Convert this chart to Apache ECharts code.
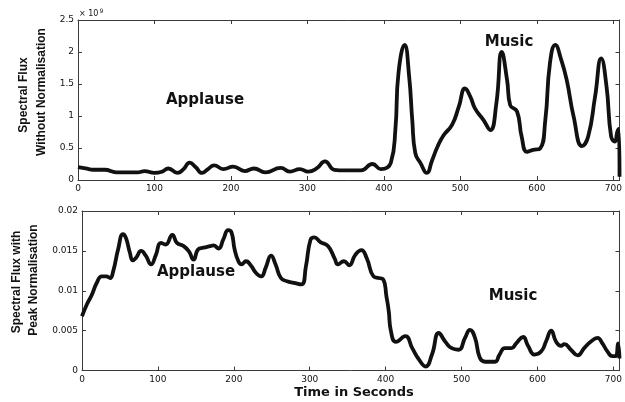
<!DOCTYPE html>
<html>
<head>
<meta charset="utf-8">
<script src="https://cdn.jsdelivr.net/npm/echarts@6/dist/echarts.min.js"></script>
<style>
  html, body { margin: 0; padding: 0; background: #fff; }
  #chart { width: 625px; height: 402px; }
</style>
</head>
<body>
<div id="chart"></div>
<script>
// Spectral flux of a recording (applause, then music), in seconds.
// Upper panel: raw flux (x 10^9); lower panel: peak-normalised flux.
var rawTime = [0, 10, 20, 35, 50, 65, 78, 87, 100, 110, 118, 130, 138, 146, 154, 162, 170, 178, 190, 203,
  218, 230, 245, 265, 277, 290, 301, 312, 323, 335, 350, 370, 385, 396, 409, 415, 419, 427, 433, 437,
  441, 448, 456, 463, 470, 478, 489, 498, 506, 513, 519, 530, 539, 547, 554, 561, 565, 574, 580, 587,
  595, 604, 611, 617, 624, 632, 639, 648, 659, 667, 676, 684, 691, 697, 702, 705, 707, 708];
var rawFlux = [0.20, 0.18, 0.16, 0.16, 0.12, 0.12, 0.12, 0.14, 0.11, 0.13, 0.18, 0.11, 0.17, 0.27, 0.20, 0.11, 0.17, 0.23, 0.17, 0.21,
  0.14, 0.18, 0.12, 0.19, 0.13, 0.17, 0.13, 0.18, 0.29, 0.16, 0.15, 0.15, 0.25, 0.17, 0.27, 0.80, 1.67, 2.11, 1.61, 0.94,
  0.42, 0.26, 0.11, 0.31, 0.52, 0.70, 0.86, 1.15, 1.43, 1.30, 1.12, 0.94, 0.78, 1.20, 2.00, 1.56, 1.17, 1.07, 0.68, 0.44,
  0.47, 0.49, 0.94, 1.82, 2.11, 1.87, 1.56, 0.99, 0.53, 0.68, 1.30, 1.90, 1.46, 0.68, 0.60, 0.75, 0.80, 0.05];

var normTime = [0, 6.5, 13, 19.5, 26, 32, 37, 41, 47.6, 54, 58, 63, 67, 71, 78, 84, 91, 97, 104, 110,
  119, 125, 134, 141, 147, 153, 160, 169, 173, 180, 186, 192.6, 197, 201, 206, 210, 216, 223, 229, 236,
  242, 249, 255, 262, 270, 279, 289, 295, 301, 306, 314, 324, 333, 337, 345, 352, 360, 368, 375, 384,
  391, 397, 401, 404, 407, 413.5, 426, 435, 444, 452.6, 461, 470, 478.6, 487, 496, 504.6, 511, 517.7, 524, 531,
  544, 550, 557, 565.6, 572, 581, 587.5, 596, 605, 611.5, 618, 624.5, 631, 635.5, 644, 653, 661.5, 670, 679, 685.5,
  692, 698.6, 703, 706, 708];
var normFlux = [0.0068, 0.0083, 0.0095, 0.0110, 0.0118, 0.0118, 0.0116, 0.0124, 0.0152, 0.0171, 0.0166, 0.0148, 0.0138, 0.0141, 0.0150, 0.0144, 0.0133, 0.0144, 0.0160, 0.0158,
  0.0170, 0.0160, 0.0156, 0.0149, 0.0139, 0.0152, 0.0154, 0.0156, 0.0157, 0.0153, 0.0164, 0.0176, 0.0173, 0.0152, 0.0137, 0.0133, 0.0137, 0.0131, 0.01225, 0.0118,
  0.0129, 0.0144, 0.0133, 0.0116, 0.0112, 0.0110, 0.0108, 0.0131, 0.0164, 0.0167, 0.0161, 0.0156, 0.0140, 0.0133, 0.0137, 0.0132, 0.0145, 0.0151, 0.0141, 0.0118,
  0.0116, 0.0114, 0.0093, 0.0075, 0.0049, 0.0036, 0.0043, 0.0028, 0.00135, 0.0005, 0.0020, 0.0047, 0.0036, 0.0028, 0.0026, 0.0041, 0.0051, 0.0041, 0.0016, 0.0011,
  0.0011, 0.0020, 0.0028, 0.0028, 0.0034, 0.0042, 0.0031, 0.0020, 0.0024, 0.0037, 0.0050, 0.0036, 0.0031, 0.0033, 0.0026, 0.0019, 0.0028, 0.0036, 0.0041, 0.0034,
  0.0024, 0.0018, 0.0018, 0.0034, 0.0015];

var xTicks = [0, 100, 200, 300, 400, 500, 600, 700];
var rawTicks = [0, 0.5, 1, 1.5, 2, 2.5];
var normTicks = [0, 0.005, 0.01, 0.015, 0.02];

function pairs(xs, ys) {
  return xs.map(function (x, i) { return [x, ys[i]]; });
}

var frame = '#3a3a3a';
var tickFont = { fontFamily: 'DejaVu Sans', fontSize: 9, color: '#111' };

function xAxisFor(grid, main) {
  return {
    type: 'value', gridIndex: grid, position: main ? 'bottom' : 'top',
    min: xTicks[0], max: 708, interval: xTicks[1] - xTicks[0],
    axisLine: { show: true, onZero: false, lineStyle: { color: frame, width: 1 } },
    axisTick: { show: true, inside: true, length: 4, lineStyle: { color: frame } },
    axisLabel: Object.assign({
      show: main, margin: grid === 0 ? 4 : 5, showMaxLabel: false,
      formatter: function (v) { return xTicks.indexOf(v) >= 0 ? String(v) : ''; }
    }, tickFont),
    splitLine: { show: false }
  };
}

function yAxisFor(grid, ticks, main) {
  return {
    type: 'value', gridIndex: grid, position: main ? 'left' : 'right',
    min: ticks[0], max: ticks[ticks.length - 1], interval: ticks[1] - ticks[0],
    axisLine: { show: true, onZero: false, lineStyle: { color: frame, width: 1 } },
    axisTick: { show: true, inside: true, length: 4, lineStyle: { color: frame } },
    axisLabel: Object.assign({ show: main, margin: 4 }, tickFont),
    splitLine: { show: false }
  };
}

var chart = echarts.init(document.getElementById('chart'), null, { renderer: 'canvas' });

var titleFont = { fontFamily: 'Liberation Sans', fontWeight: 'bold', fontSize: 12, fill: '#111' };
var noteFont = { fontFamily: 'DejaVu Sans', fontWeight: 'bold', fontSize: 15, fill: '#111' };

function vText(x, y, text) {
  return {
    type: 'text', x: x, y: y, rotation: Math.PI / 2,
    style: Object.assign({ text: text, align: 'center', verticalAlign: 'middle' }, titleFont)
  };
}
function note(x, y, text) {
  return {
    type: 'text', x: x, y: y,
    style: Object.assign({ text: text, align: 'center', verticalAlign: 'middle' }, noteFont)
  };
}

chart.setOption({
  animation: false,
  backgroundColor: '#fff',
  grid: [
    { left: 78, right: 2, top: 20, height: 160 },
    { left: 82, right: 1, top: 211, height: 159.5 }
  ],
  xAxis: [xAxisFor(0, true), xAxisFor(0, false), xAxisFor(1, true), xAxisFor(1, false)],
  yAxis: [yAxisFor(0, rawTicks, true), yAxisFor(0, rawTicks, false),
          yAxisFor(1, normTicks, true), yAxisFor(1, normTicks, false)],
  series: [
    {
      type: 'line', xAxisIndex: 0, yAxisIndex: 0, data: pairs(rawTime, rawFlux),
      smooth: 0.5, showSymbol: false, clip: true,
      lineStyle: { color: '#111', width: 3.8 }
    },
    {
      type: 'line', xAxisIndex: 2, yAxisIndex: 2, data: pairs(normTime, normFlux),
      smooth: 0.5, showSymbol: false, clip: true,
      lineStyle: { color: '#111', width: 3.8 }
    }
  ],
  graphic: [
    {
      type: 'text', x: 79, y: 14,
      style: {
        text: '{a|× 10}{b|9}', verticalAlign: 'middle',
        rich: {
          a: { fontFamily: 'DejaVu Sans', fontSize: 8, fill: '#111' },
          b: { fontFamily: 'DejaVu Sans', fontSize: 6, fill: '#111', verticalAlign: 'top', padding: [0, 0, 6, 1] }
        }
      }
    },
    vText(24, 95, 'Spectral Flux'),
    vText(42, 92, 'Without Normalisation'),
    vText(17, 282, 'Spectral Flux with'),
    vText(34, 280, 'Peak Normalisation'),
    note(205, 100, 'Applause'),
    note(509, 42, 'Music'),
    note(196, 272, 'Applause'),
    note(513, 296, 'Music'),
    {
      type: 'text', x: 354, y: 393,
      style: { text: 'Time in Seconds', align: 'center', verticalAlign: 'middle',
               fontFamily: 'DejaVu Sans', fontWeight: 'bold', fontSize: 13, fill: '#111' }
    }
  ]
});
</script>
</body>
</html>
